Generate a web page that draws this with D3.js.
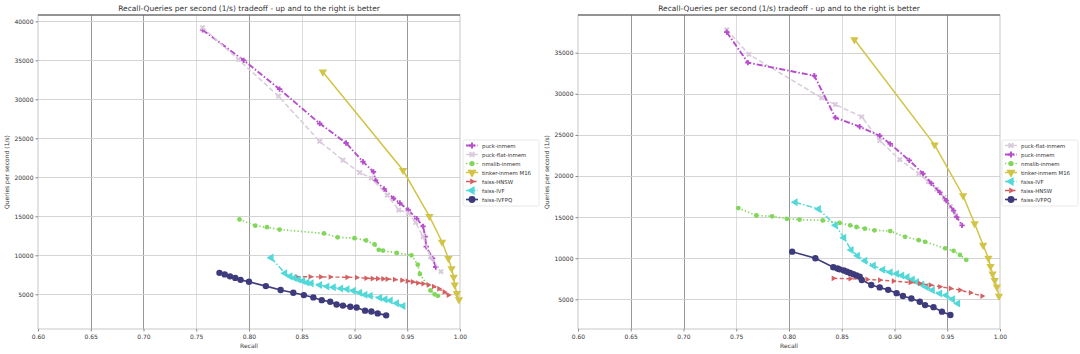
<!DOCTYPE html>
<html>
<head>
<meta charset="utf-8">
<script src="https://cdn.jsdelivr.net/npm/d3@7"></script>
<style>
body { margin: 0; background: #fff; }
text { font-family: "DejaVu Sans", sans-serif; fill: #333; }
</style>
</head>
<body>
<script>
// ---- data: [recall, queries per second] ----
var leftPuckInmem = [[0.756,38900],[0.795,35000],[0.829,31300],[0.867,26900],[0.892,24400],[0.908,22000],[0.918,20700],[0.920,19600],[0.928,18500],[0.937,17300],[0.943,16700],[0.951,15800],[0.959,14700],[0.965,13700],[0.967,12400],[0.968,11100],[0.974,9600],[0.977,8500]];
var leftPuckFlat = [[0.756,39200],[0.790,35100],[0.828,30400],[0.867,24600],[0.889,22200],[0.905,20600],[0.916,19900],[0.931,17700],[0.942,15800],[0.951,15400],[0.958,14200],[0.965,12400],[0.972,9800],[0.982,7900]];
var leftNmslib = [[0.791,14600],[0.806,13800],[0.817,13600],[0.829,13300],[0.871,12800],[0.884,12300],[0.900,12200],[0.911,11900],[0.919,11400],[0.923,10700],[0.927,10600],[0.940,10300],[0.954,10000],[0.960,8800],[0.962,7600],[0.972,5500],[0.976,5000],[0.979,4800]];
var leftTinker = [[0.870,33500],[0.946,20900],[0.971,15000],[0.983,11700],[0.989,9600],[0.992,8300],[0.994,7200],[0.995,6200],[0.997,5100],[0.999,4300]];
var leftHnsw = [[0.845,7250],[0.858,7250],[0.868,7230],[0.877,7220],[0.893,7180],[0.902,7150],[0.911,7060],[0.917,7020],[0.922,7000],[0.927,6980],[0.931,6950],[0.938,6900],[0.945,6800],[0.950,6700],[0.955,6600],[0.960,6450],[0.965,6350],[0.970,6200],[0.975,6000],[0.980,5700],[0.985,5300],[0.989,4900]];
var leftIvf = [[0.821,9700],[0.834,7700],[0.839,7300],[0.843,7100],[0.847,6900],[0.851,6700],[0.855,6500],[0.859,6400],[0.867,6200],[0.874,6000],[0.880,5900],[0.887,5750],[0.893,5650],[0.899,5450],[0.905,5200],[0.910,4950],[0.915,4800],[0.924,4550],[0.929,4350],[0.934,4200],[0.940,3850],[0.946,3500]];
var leftIvfpq = [[0.772,7750],[0.777,7550],[0.782,7300],[0.787,7100],[0.792,6850],[0.800,6600],[0.816,6050],[0.830,5550],[0.842,5200],[0.852,4900],[0.861,4600],[0.869,4250],[0.877,4050],[0.883,3700],[0.889,3550],[0.896,3400],[0.902,3300],[0.910,2900],[0.916,2800],[0.922,2550],[0.930,2300]];

var rightPuckFlat = [[0.741,37800],[0.762,34800],[0.831,29500],[0.844,28700],[0.869,27200],[0.886,24300],[0.905,22000],[0.923,20300],[0.932,19300],[0.940,18400],[0.947,17400],[0.953,16300],[0.958,15200]];
var rightPuckInmem = [[0.741,37500],[0.761,33800],[0.824,32200],[0.844,27100],[0.867,26000],[0.886,24900],[0.896,23900],[0.914,21900],[0.927,20300],[0.935,19100],[0.943,18000],[0.949,17000],[0.956,15800],[0.959,15000],[0.964,14000]];
var rightNmslib = [[0.752,16100],[0.769,15200],[0.784,15100],[0.798,14800],[0.810,14700],[0.832,14600],[0.848,14300],[0.858,14000],[0.864,13800],[0.872,13600],[0.881,13400],[0.896,13300],[0.910,12600],[0.923,12200],[0.929,12000],[0.948,11200],[0.956,10900],[0.962,10400],[0.968,9800]];
var rightTinker = [[0.862,36600],[0.938,23800],[0.965,17600],[0.976,14200],[0.984,11600],[0.989,10000],[0.991,9000],[0.993,8100],[0.995,7300],[0.997,6500],[0.999,5400]];
var rightIvf = [[0.806,16800],[0.828,16000],[0.844,14000],[0.852,12500],[0.859,11000],[0.865,10300],[0.872,9700],[0.880,9100],[0.889,8600],[0.896,8300],[0.902,8100],[0.907,7900],[0.912,7700],[0.917,7400],[0.921,7100],[0.926,6800],[0.930,6500],[0.936,6100],[0.943,5700],[0.949,5500],[0.955,5000],[0.960,4500]];
var rightHnsw = [[0.842,7550],[0.858,7500],[0.874,7420],[0.886,7340],[0.899,7220],[0.915,7060],[0.924,6940],[0.934,6730],[0.943,6530],[0.953,6330],[0.962,6130],[0.972,5800],[0.983,5400]];
var rightIvfpq = [[0.803,10800],[0.825,10000],[0.842,8900],[0.846,8750],[0.848,8650],[0.852,8500],[0.855,8350],[0.858,8200],[0.861,8050],[0.864,7900],[0.867,7750],[0.869,7350],[0.878,6750],[0.886,6450],[0.894,6150],[0.902,5750],[0.908,5400],[0.916,5100],[0.924,4700],[0.929,4300],[0.937,4050],[0.945,3500],[0.953,3100]];

// legend order of each plot
var leftNames = ['puck-inmem','puck-flat-inmem','nmslib-inmem','tinker-inmem M16','faiss-HNSW','faiss-IVF','faiss-IVFPQ'];
var leftSeries = [leftPuckInmem, leftPuckFlat, leftNmslib, leftTinker, leftHnsw, leftIvf, leftIvfpq];
var rightNames = ['puck-flat-inmem','puck-inmem','nmslib-inmem','tinker-inmem M16','faiss-IVF','faiss-HNSW','faiss-IVFPQ'];
var rightSeries = [rightPuckFlat, rightPuckInmem, rightNmslib, rightTinker, rightIvf, rightHnsw, rightIvfpq];

// axis limits and ticks
var xDomain = [0.60, 1.00];
var xTicks = [0.60,0.65,0.70,0.75,0.80,0.85,0.90,0.95,1.00];
var leftYDomain = [550, 40810];
var leftYTicks = [5000,10000,15000,20000,25000,30000,35000,40000];
var rightYDomain = [1390, 39590];
var rightYTicks = [5000,10000,15000,20000,25000,30000,35000];

var titleText = 'Recall-Queries per second (1/s) tradeoff - up and to the right is better';

// ---- styles per algorithm ----
var styles = {
  'puck-inmem':       {color:'#b64ecb', dash:'6,2,1.5,2', width:1.9, shape:d3.symbolCross,    rot:0,   size:16},
  'puck-flat-inmem':  {color:'#d9cadc', dash:'5,2.5',     width:1.5, shape:d3.symbolCross,    rot:45,  size:20},
  'nmslib-inmem':     {color:'#82d65c', dash:'1.3,2.2',   width:1.7, shape:d3.symbolCircle,   rot:0,   size:18},
  'tinker-inmem M16': {color:'#d2c446', dash:null,        width:1.5, shape:d3.symbolTriangle, rot:180, size:30},
  'faiss-HNSW':       {color:'#d65f60', dash:'4,2.5',     width:1.4, shape:d3.symbolTriangle, rot:90,  size:14},
  'faiss-IVF':        {color:'#52d8d8', dash:'6,2,1.5,2', width:1.5, shape:d3.symbolTriangle, rot:-90, size:28},
  'faiss-IVFPQ':      {color:'#3d3b7c', dash:null,        width:1.6, shape:d3.symbolCircle,   rot:0,   size:32}
};

var svg = d3.select('body').append('svg')
  .attr('width', 1080)
  .attr('height', 354);

function drawPanel(p) {
  var x = d3.scaleLinear().domain(xDomain).range([p.left, p.right]);
  var y = d3.scaleLinear().domain(p.yDomain).range([p.bottom, p.top]);
  var g = svg.append('g');

  // grid
  g.selectAll('.vgrid').data(xTicks.slice(1, -1)).enter().append('line')
    .attr('x1', function(d){ return Math.round(x(d)) + 0.5; })
    .attr('x2', function(d){ return Math.round(x(d)) + 0.5; })
    .attr('y1', p.top).attr('y2', p.bottom)
    .attr('stroke', function(d){ return [0.65,0.70,0.80,0.95].indexOf(d) >= 0 ? '#8c8c8c' : '#d8d8d8'; })
    .attr('stroke-width', 0.9);
  g.selectAll('.hgrid').data(p.yTicks).enter().append('line')
    .attr('x1', p.left).attr('x2', p.right)
    .attr('y1', function(d){ return Math.round(y(d)) + 0.5; })
    .attr('y2', function(d){ return Math.round(y(d)) + 0.5; })
    .attr('stroke', '#cfcfcf')
    .attr('stroke-width', 0.9);

  // frame
  g.append('rect')
    .attr('x', p.left).attr('y', p.top)
    .attr('width', p.right - p.left).attr('height', p.bottom - p.top)
    .attr('fill', 'none').attr('stroke', '#b8b8b8').attr('stroke-width', 0.8);
  g.append('line')
    .attr('x1', p.left).attr('x2', p.right)
    .attr('y1', p.top).attr('y2', p.top)
    .attr('stroke', '#444').attr('stroke-width', 1);

  // axes
  var xAxis = d3.axisBottom(x).tickValues(xTicks).tickFormat(d3.format('.2f')).tickSize(2.5).tickPadding(3);
  var yAxis = d3.axisLeft(y).tickValues(p.yTicks).tickFormat(d3.format('d')).tickSize(2.5).tickPadding(2);
  var gx = g.append('g').attr('transform', 'translate(0,' + p.bottom + ')').call(xAxis);
  var gy = g.append('g').attr('transform', 'translate(' + p.left + ',0)').call(yAxis);
  [gx, gy].forEach(function(a) {
    a.select('.domain').remove();
    a.selectAll('line').attr('stroke', '#888');
    a.selectAll('text').style('font-size', '6px').attr('fill', '#333');
  });

  // series
  var line = d3.line().x(function(d){ return x(d[0]); }).y(function(d){ return y(d[1]); });
  p.series.forEach(function(data, i) {
    var s = styles[p.names[i]];
    g.append('path')
      .datum(data)
      .attr('d', line)
      .attr('fill', 'none')
      .attr('stroke', s.color)
      .attr('stroke-width', s.width)
      .attr('stroke-dasharray', s.dash);
    g.selectAll('.m' + i).data(data).enter().append('path')
      .attr('d', d3.symbol().type(s.shape).size(s.size))
      .attr('transform', function(d){ return 'translate(' + x(d[0]) + ',' + y(d[1]) + ') rotate(' + s.rot + ')'; })
      .attr('fill', s.color);
  });

  // title and labels
  var cx = (p.left + p.right) / 2;
  g.append('text').attr('x', cx).attr('y', 10.8)
    .attr('text-anchor', 'middle').style('font-size', '7.5px').text(titleText);
  g.append('text').attr('x', cx).attr('y', 348)
    .attr('text-anchor', 'middle').style('font-size', '6px').text('Recall');
  g.append('text')
    .attr('transform', 'translate(' + (p.left - 29) + ',' + ((p.top + p.bottom) / 2) + ') rotate(-90)')
    .attr('text-anchor', 'middle').style('font-size', '6px').text('Queries per second (1/s)');

  // legend
  var lg = g.append('g').attr('transform', 'translate(' + p.legendX + ',140)');
  lg.append('rect')
    .attr('width', 76).attr('height', 66).attr('rx', 1.5)
    .attr('fill', '#fff').attr('stroke', '#e2e2e2').attr('stroke-width', 0.8);
  p.names.forEach(function(name, i) {
    var s = styles[name];
    var yy = 5.5 + i * 9;
    lg.append('line')
      .attr('x1', 3).attr('x2', 15).attr('y1', yy).attr('y2', yy)
      .attr('stroke', s.color).attr('stroke-width', s.width)
      .attr('stroke-dasharray', s.dash);
    lg.append('path')
      .attr('d', d3.symbol().type(s.shape).size(s.size * 1.2))
      .attr('transform', 'translate(9,' + yy + ') rotate(' + s.rot + ')')
      .attr('fill', s.color);
    lg.append('text').attr('x', 19).attr('y', yy + 2)
      .style('font-size', '5.4px').text(name);
  });
}

drawPanel({left: 38, right: 460, top: 15, bottom: 329, yDomain: leftYDomain, yTicks: leftYTicks,
           series: leftSeries, names: leftNames, legendX: 463});
drawPanel({left: 578, right: 1000, top: 15, bottom: 329, yDomain: rightYDomain, yTicks: rightYTicks,
           series: rightSeries, names: rightNames, legendX: 1002});
</script>
</body>
</html>
